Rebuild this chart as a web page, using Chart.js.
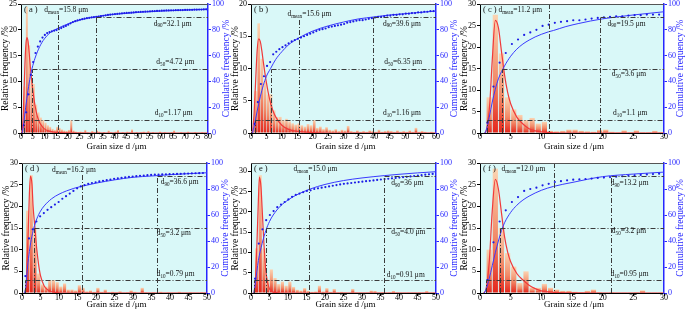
<!DOCTYPE html>
<html>
<head>
<meta charset="utf-8">
<script src="https://cdn.jsdelivr.net/npm/chart.js@4.4.0/dist/chart.umd.min.js"></script>
<style>
  body { margin: 0; background: #fff; width: 685px; height: 313px; overflow: hidden; position: relative; }
  canvas { position: absolute; left: 0; top: 0; }
</style>
</head>
<body>
<canvas id="c0" width="685" height="313"></canvas>
<canvas id="c1" width="685" height="313"></canvas>
<canvas id="c2" width="685" height="313"></canvas>
<canvas id="c3" width="685" height="313"></canvas>
<canvas id="c4" width="685" height="313"></canvas>
<canvas id="c5" width="685" height="313"></canvas>
<script>
// histogram heights (%), one bin per 1 um starting at 0
const freqA = [0.5, 9, 24.5, 17, 10.5, 9.5, 5.5, 4, 3, 2.5,
  2, 1.5, 1.2, 0.8, 0.6, 1.2, 1.0, 0.7, 0.5, 0.4,
  0.6, 2.5, 0.5, 0.3, 0.2, 0.3, 0.2, 0.6, 0.2, 0.1,
  0.4, 0.2, 0.5, 0.3, 0.1, 0.2, 0.1, 0.5, 0.2, 0.1,
  0.3, 0.6, 0.1, 0.2, 0.1, 0.3, 0.2, 0.7, 0.1, 0.2,
  0.1, 0.2, 0.3, 0.1, 0.4, 0.1, 0.2, 0.1, 0.1, 0.3,
  0.1, 0.2, 0.1, 0.1, 0.2, 0.5, 0.1, 0.1, 0.2, 0.1,
  0.1, 0.3, 0.1, 0.1, 0.2, 0.1, 0.1, 0.2, 0.1, 0.1];
const freqB = [0.3, 6.5, 17, 11.5, 8, 6, 6, 3.5, 2.5, 2.5,
  2, 2.2, 1.8, 1.5, 1.3, 1.5, 1.2, 1.0, 1.4, 1.2,
  2.0, 0.8, 1.0, 0.6, 0.9, 0.5, 0.4, 0.6, 0.3, 0.5,
  0.4, 1.1, 0.3, 0.2, 0.4, 0.2, 0.3, 0.2, 0.4, 0.3,
  0.2, 0.5, 0.2, 0.3, 0.4, 0.3, 0.2, 0.4, 0.2, 0.3,
  0.2, 0.4, 0.2, 0.8, 0.2, 0.3, 0.2, 0.1, 0.2, 0.1];
const freqC = [0, 8.3, 27.5, 18.5, 8.3, 5.5, 4.2, 3.0, 3.5, 2.2,
  2.6, 0.5, 0.4, 0.5, 0.8, 0.8, 0.5, 0.4, 0.3, 0.7,
  0.8, 0.3, 0.2, 0.6, 0.2, 0.6, 0.2, 0.2, 0.5, 0.2];
const freqD = [0.2, 19, 27.2, 15, 4.5, 2, 1.5, 3, 3, 2.5,
  1.5, 2.2, 0.8, 0.8, 0.6, 1.8, 1.2, 0.4, 0.6, 0.3,
  1.2, 0.3, 0.8, 0.2, 0.3, 0.2, 0.4, 0.1, 0.2, 0.6,
  0.3, 0.1, 1.2, 0.2, 0.1, 0.2, 0.1, 0.3, 0.1, 0.2,
  0.1, 0.1, 0.3, 0.1, 0.1, 0.2, 0.1, 0.1, 0.2, 0.1];
const freqE = [0.2, 11, 29, 11, 3.3, 5.8, 3.7, 2.2, 2.8, 1.8,
  2.8, 1.5, 0.8, 0.6, 1.2, 0.5, 0.3, 0.4, 1.8, 0.4,
  1.2, 0.3, 1.0, 0.2, 0.3, 0.2, 0.1, 1.0, 0.2, 0.2,
  0.1, 0.2, 0.6, 0.5, 0.1, 0.2, 0.1, 0.2, 0.5, 0.2,
  0.1, 0.1, 0.2, 0.1, 0.1, 0.2, 0.1, 0.5, 0.1, 0.1];
const freqF = [0, 10, 28.7, 15, 9.2, 6.1, 2.3, 5, 1.3, 1.2,
  2.1, 1.2, 0.8, 0.5, 0.5, 0.3, 0.2, 0.5, 0.8, 0.2,
  0.1, 0.2, 0.1, 0.1, 0.1, 0.2, 0.6, 0.1, 0.1, 0.1];

// fitted frequency curves [d, %]
const fitA = [[0.5,0],[1,4],[1.5,11],[2,16.5],[2.5,18.5],[3,17.8],[3.5,15.5],[4,12.8],[5,8.5],[6,5.3],[7,3.2],[8,2],[9,1.3],[10,0.8],[12,0.35],[15,0.12],[20,0.03],[30,0],[80,0]];
const fitB = [[0.5,0],[1,3],[1.5,8],[2,12.8],[2.5,14.6],[3,14.2],[3.5,12.8],[4,11],[5,7.8],[6,5.3],[7,3.6],[8,2.5],[10,1.2],[12,0.6],[15,0.25],[20,0.08],[30,0],[60,0]];
const fitC = [[0.8,0],[1.2,1.5],[1.6,7],[2,17],[2.5,26.2],[3,24.5],[3.5,19],[4,13.5],[4.5,9.5],[5,6.8],[6,3.7],[7,2.1],[8,1],[9,0.5],[10,0.25],[12,0.05],[15,0],[30,0]];
const fitD = [[0.8,0],[1.2,3],[1.6,12],[2,23],[2.3,27],[2.7,25],[3,20],[3.5,15],[4,10],[4.5,6.5],[5,4],[6,1.6],[7,0.7],[8,0.3],[10,0.05],[12,0],[50,0]];
const fitE = [[0.8,0],[1.2,3],[1.6,12],[2,23],[2.3,28.5],[2.7,26],[3,21],[3.5,12],[4,5.5],[4.5,2.5],[5,1],[6,0.2],[8,0],[50,0]];
const fitF = [[0.6,0],[1,1],[1.5,7],[2,19],[2.5,26.2],[3,24],[3.5,18.5],[4,13],[4.5,9.5],[5,7.2],[6,4.5],[7,3],[8,1.8],[9,1],[10,0.5],[12,0.15],[15,0.02],[20,0],[30,0]];

// cumulative frequency dots (%), 1 um apart starting at cumStart
const cumStart = [1.2, 1.2, 1.2, 0.9, 1.1, 1.2];
const cumA = [6, 16, 30, 45, 55, 62, 67, 71, 74, 76,
  77.5, 78.2, 78.8, 79.3, 79.8, 80.5, 81.3, 82.2, 83, 84,
  85, 86, 86.7, 87.3, 87.8, 88.2, 88.6, 89, 89.3, 89.6,
  89.8, 90, 90.3, 90.6, 90.9, 91.2, 91.5, 91.8, 92, 92.2,
  92.4, 92.6, 92.8, 93, 93.1, 93.2, 93.3, 93.5, 93.7, 93.8,
  93.9, 94, 94.1, 94.2, 94.3, 94.4, 94.5, 94.6, 94.7, 94.8,
  94.9, 95, 95, 95.1, 95.1, 95.2, 95.2, 95.3, 95.3, 95.4,
  95.4, 95.5, 95.5, 95.6, 95.6, 95.7, 95.7, 95.8, 95.9];
const cumB = [7, 24, 38, 44, 52, 55, 61, 63, 65, 66.5,
  68, 69.5, 71, 72, 73, 74, 75, 76, 77, 78,
  79, 80, 80.5, 81, 82, 82.5, 83, 83.5, 84, 84.5,
  85.5, 86, 86.5, 87, 87.5, 87.5, 88, 88.5, 89, 89.5,
  90, 90, 90.5, 91, 91, 91.5, 91.5, 92, 92, 92.5,
  92.5, 93, 93, 93.5, 93.5, 94, 94, 94.5, 94.5];
const cumC = [8, 36, 54.5, 62, 69, 72.5, 76, 78, 80, 83,
  84, 85.4, 86.2, 86.7, 87.4, 87.4, 88, 88.7, 89.2, 89.7,
  90, 90.5, 90.5, 91, 91.3, 91.3, 91.8, 91.8, 91.8];
const cumD = [13, 42, 49, 55, 59, 61.5, 64, 66, 68, 70,
  72.5, 74.5, 76.5, 78.5, 80.5, 82, 83, 84, 84.6, 85.2,
  85.8, 86.3, 86.8, 87.3, 87.8, 88.2, 88.6, 89, 89.3, 89.6,
  89.9, 90.2, 90.4, 90.6, 90.8, 91, 91.1, 91.2, 91.3, 91.4,
  91.5, 91.6, 91.7, 91.8, 91.9, 92, 92.1, 92.2, 92.3];
const cumE = [11, 38, 49, 56, 60, 63, 66, 68, 70, 72,
  74, 75.5, 76.5, 77.5, 78.5, 79, 80, 80.5, 81, 81.5,
  82, 82.5, 83, 83.5, 84, 84.3, 84.6, 85, 85.3, 85.6,
  86, 86.3, 86.6, 87, 87.3, 87.6, 87.9, 88.2, 88.5, 88.8,
  89.1, 89.4, 89.7, 90, 90.3, 90.6, 91, 91.3, 91.6];
const cumF = [10, 39, 55, 63.6, 70, 73.8, 78.5, 80, 81, 82.8,
  84, 85.4, 86, 86.7, 87.2, 87.4, 87.7, 88, 88.5, 88.8,
  89.2, 89.5, 89.8, 90.2, 90.5, 90.8, 91.2, 91.5, 91.8];

// fitted cumulative curves [d, %]
const cumFitA = [[0.5,0],[1,5],[2,20],[3,33],[4,44],[4.72,50],[6,58],[8,67],[10,73],[12,77],[15,80.5],[20,84.5],[25,87.5],[30,89.5],[35,91],[40,92],[50,93.5],[60,94.5],[70,95.3],[80,96]];
const cumFitB = [[0.5,0],[1,5],[2,17],[3,28],[4,37],[5,44],[6.35,50],[8,57],[10,63],[12,68],[15,73],[20,79],[25,83],[30,86],[35,88.5],[40,90],[45,91.5],[50,92.5],[55,93.5],[60,94.5]];
const cumFitC = [[0.8,0],[1,2],[1.5,12],[2,24],[2.5,34],[3,42],[4,52],[5,59.5],[6,65],[7,69],[8,72],[9,74.5],[10,76.5],[11.2,78.5],[12,79.5],[14,82.5],[16,84.8],[18,86.8],[20,88.5],[22,89.8],[25,91.5],[30,94]];
const cumFitD = [[0.7,0],[1,4],[1.5,20],[2,32],[2.5,41],[3.2,50],[4,57],[5,63],[6,67],[8,72.5],[10,76],[12,78.5],[14,80.5],[16,82],[20,84.5],[25,87],[30,89],[35,90],[40,91],[45,91.8],[50,92.5]];
const cumFitE = [[0.8,0],[1.2,8],[2,25],[3,38],[4,48],[5,55],[6,60],[8,67],[10,71.5],[12,75],[16,80],[20,83.5],[25,86.5],[30,88.5],[36,90.3],[40,91.3],[45,92.4],[50,93.3]];
const cumFitF = [[0.7,0],[1,3],[1.5,11],[2,21],[2.5,31],[3,40],[3.5,48],[4,54],[5,62],[6,67.5],[7,71.5],[8,74.5],[10,79],[12,82],[15,85],[20,89.5],[25,91.5],[30,93]];

// axis ranges and characteristic sizes
const xMax = [80, 60, 30, 50, 50, 30];
const yMax = [25, 20, 30, 30, 32, 30];
const tags = ['( a )', '( b )', '( c )', '( d )', '( e )', '( f )'];
const dMeanText = ['15.8', '15.6', '11.2', '16.2', '15.0', '12.0'];
const d90Text = ['32.1', '39.6', '19.5', '36.6', '36', '13.2'];
const d50Text = ['4.72', '6.35', '3.6', '3.2', '4.0', '3.2'];
const d10Text = ['1.17', '1.16', '1.1', '0.79', '0.91', '0.95'];
const dMeanAt = [15.8, 15.6, 11.2, 16.2, 15.7, 12.0];
const d90At = [32.1, 39.6, 19.5, 36.6, 36, 21.3];
const d50At = [4.72, 6.35, 3.6, 3.2, 4.0, 3.2];
const d10At = [1.17, 1.16, 1.1, 0.79, 0.91, 0.95];

// layout (page pixels) - not data
const plotBox = [[21,3,208,133],[251,3,436,133],[480,3,664,133],[22,163,207,293],[251,163,436,293],[480,163,664,293]];
const labelAt = [[56.8,57.9,57.2],[42.8,43.2,42.8],[20.8,21.5,21.7],[37.5,36.4,36.4],[37.9,37.9,36.7],[21.3,21.5,21.3]];
const labelDy = [[7,-6,-7],[7,-6,-7],[7,6,-7],[6,5,-6],[7,4,-5],[7,3,-6]];
const meanAt = [[9.9,6],[11.8,10],[3.0,6],[8.1,7.5],[11.5,6],[3.5,6]];
const meanLineTop = [11, 16, 0, 12, 12, 0];

const serif = '"Liberation Serif", "Times New Roman", serif';
const BLUE = '#2626ff';
const Y_W = 18, Y1_W = 16, X_H = 14;

function barFill(ctx) {
  const chart = ctx.chart;
  if (!chart.chartArea || ctx.type !== 'data') return '#f4a07c';
  const ys = chart.scales.y;
  const top = ys.getPixelForValue(ctx.parsed.y);
  const base = ys.getPixelForValue(0);
  if (!(base - top > 0.5)) return '#e8402c';
  const g = chart.ctx.createLinearGradient(0, base, 0, top);
  g.addColorStop(0, '#e4261c');
  g.addColorStop(0.45, '#f28a68');
  g.addColorStop(1, '#fbd4b2');
  return g;
}

function dLabel(c, x, y, sub, rest, size) {
  c.font = size + 'px ' + serif;
  c.fillText('d', x, y);
  x += c.measureText('d').width;
  c.font = (size * 0.68).toFixed(1) + 'px ' + serif;
  c.fillText(sub, x, y + size * 0.3);
  x += c.measureText(sub).width;
  c.font = size + 'px ' + serif;
  c.fillText(rest, x, y);
}

function decoPlugin(i) {
  return {
    id: 'deco' + i,
    beforeDraw(chart) {
      const a = chart.chartArea, c = chart.ctx;
      c.save();
      c.fillStyle = '#d9f8f8';
      c.fillRect(a.left, a.top, a.right - a.left, a.bottom - a.top);
      c.restore();
    },
    afterDatasetsDraw(chart) {
      const a = chart.chartArea, c = chart.ctx;
      const X = v => chart.scales.x.getPixelForValue(v);
      const Y = v => chart.scales.y1.getPixelForValue(v);
      const seg = (x1, y1, x2, y2) => { c.beginPath(); c.moveTo(x1, y1); c.lineTo(x2, y2); c.stroke(); };
      c.save();
      c.strokeStyle = '#3a3a3a';
      c.lineWidth = 1;
      c.setLineDash([5, 2, 1, 2]);
      [[d10At[i], 10], [d50At[i], 50], [d90At[i], 90]].forEach(([d, p]) => {
        const y = Math.round(Y(p)) + 0.5, x = Math.round(X(d)) + 0.5;
        seg(x, y, a.right, y);
        seg(x, a.bottom, x, y);
      });
      const xm = Math.round(X(dMeanAt[i])) + 0.5;
      seg(xm, a.top + meanLineTop[i], xm, a.bottom);
      c.setLineDash([]);
      c.strokeStyle = '#555';
      seg(a.left, a.top + 0.5, a.right, a.top + 0.5);

      c.fillStyle = '#111';
      c.textAlign = 'left';
      c.textBaseline = 'middle';
      c.font = '8.5px ' + serif;
      c.fillText(tags[i], a.left + 3, a.top + 6);
      dLabel(c, X(meanAt[i][0]), a.top + meanAt[i][1], 'mean', '=' + dMeanText[i] + ' μm', 7.5);
      dLabel(c, X(labelAt[i][0]), Y(90) + labelDy[i][0], '90', '=' + d90Text[i] + ' μm', 7.5);
      dLabel(c, X(labelAt[i][1]), Y(50) + labelDy[i][1], '50', '=' + d50Text[i] + ' μm', 7.5);
      dLabel(c, X(labelAt[i][2]), Y(10) + labelDy[i][2], '10', '=' + d10Text[i] + ' μm', 7.5);
      c.restore();
    },
    afterDraw(chart) {
      const a = chart.chartArea, c = chart.ctx;
      const midY = (a.top + a.bottom) / 2;
      c.save();
      c.textAlign = 'center';
      c.textBaseline = 'middle';
      c.font = '9.5px ' + serif;
      c.fillStyle = '#000';
      c.save();
      c.translate(a.left - 16, midY);
      c.rotate(-Math.PI / 2);
      c.fillText('Relative frequency /%', 0, 0);
      c.restore();
      c.save();
      c.fillStyle = BLUE;
      c.translate(Math.min(a.right + 18, 680), midY);
      c.rotate(-Math.PI / 2);
      c.fillText('Cumulative frequency /%', 0, 0);
      c.restore();
      c.font = '9px ' + serif;
      c.fillText('Grain size d /μm', (a.left + a.right) / 2 + 2, a.bottom + (i < 3 ? 14 : 12));
      c.restore();
    }
  };
}

const freqs = [freqA, freqB, freqC, freqD, freqE, freqF];
const fits = [fitA, fitB, fitC, fitD, fitE, fitF];
const cums = [cumA, cumB, cumC, cumD, cumE, cumF];
const cumFits = [cumFitA, cumFitB, cumFitC, cumFitD, cumFitE, cumFitF];

for (let i = 0; i < 6; i++) {
  const [L, T, R, B] = plotBox[i];
  const tickFont = { family: serif, size: 8 };
  new Chart(document.getElementById('c' + i), {
    type: 'bar',
    data: {
      datasets: [
        {
          type: 'line', order: 0, yAxisID: 'y1',
          data: cums[i].map((v, k) => ({ x: cumStart[i] + k, y: v })),
          showLine: false, pointRadius: 1.1, pointBackgroundColor: '#1c1ce6', pointBorderWidth: 0
        },
        {
          type: 'line', order: 1, yAxisID: 'y1',
          data: cumFits[i].map(p => ({ x: p[0], y: p[1] })),
          borderColor: '#3a3aff', borderWidth: 1, pointRadius: 0, cubicInterpolationMode: 'monotone'
        },
        {
          type: 'line', order: 2, yAxisID: 'y',
          data: fits[i].map(p => ({ x: p[0], y: p[1] })),
          borderColor: '#f03a3a', borderWidth: 1.2, pointRadius: 0, cubicInterpolationMode: 'monotone'
        },
        {
          type: 'bar', order: 3, yAxisID: 'y',
          data: freqs[i].map((v, k) => ({ x: k + 0.5, y: v })),
          backgroundColor: barFill, borderWidth: 0,
          categoryPercentage: 1, barPercentage: 0.85
        }
      ]
    },
    options: {
      responsive: false,
      animation: false,
      devicePixelRatio: 1,
      events: [],
      layout: { padding: { left: L - Y_W, right: 685 - R - Y1_W, top: T, bottom: 313 - B - X_H } },
      plugins: { legend: { display: false }, tooltip: { enabled: false } },
      scales: {
        x: {
          type: 'linear', min: 0, max: xMax[i], offset: false,
          ticks: { stepSize: 5, autoSkip: false, maxRotation: 0, maxTicksLimit: 100, includeBounds: false,
                   font: tickFont, color: '#000', padding: i < 3 ? -4 : -3 },
          grid: { drawOnChartArea: false, tickLength: 3, color: '#000', offset: false },
          border: { color: '#000', width: 1 },
          afterFit(s) { s.height = X_H; s.paddingLeft = 0; s.paddingRight = 0; }
        },
        y: {
          position: 'left', min: 0, max: yMax[i],
          ticks: { stepSize: 5, includeBounds: false, font: tickFont, color: '#000', padding: 1 },
          grid: { drawOnChartArea: false, tickLength: 3, color: '#000' },
          border: { color: '#000', width: 1 },
          afterFit(s) { s.width = Y_W; s.paddingTop = 0; s.paddingBottom = 0; }
        },
        y1: {
          position: 'right', min: 0, max: 100,
          ticks: { stepSize: 20, font: tickFont, color: BLUE, padding: 1 },
          grid: { drawOnChartArea: false, tickLength: 3, color: BLUE },
          border: { color: BLUE, width: 1.5 },
          afterFit(s) { s.width = Y1_W; s.paddingTop = 0; s.paddingBottom = 0; }
        }
      }
    },
    plugins: [decoPlugin(i)]
  });
}
</script>
</body>
</html>
